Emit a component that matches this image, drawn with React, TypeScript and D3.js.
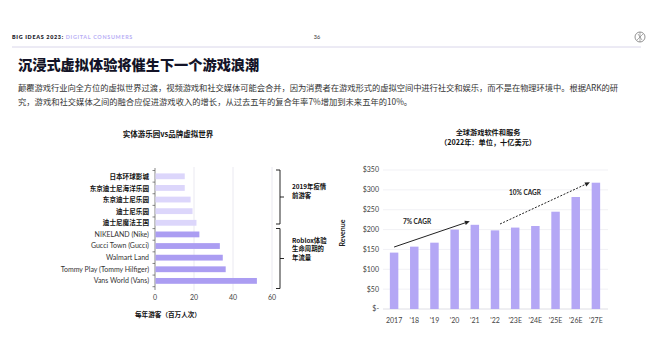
import React from "react";
import { scaleBand, scaleLinear, line } from "d3";

// left chart: physical parks vs branded virtual worlds (millions of visitors / yr)
const parkNames = [
  "日本环球影城",
  "东京迪士尼海洋乐园",
  "东京迪士尼乐园",
  "迪士尼乐园",
  "迪士尼魔法王国",
  "NIKELAND (Nike)",
  "Gucci Town (Gucci)",
  "Walmart Land",
  "Tommy Play (Tommy Hilfiger)",
  "Vans World (Vans)",
];
const parkVisitors = [15, 15, 18, 19, 21, 22.5, 33, 34.5, 36, 52];
const parkIsPhysical = [true, true, true, true, true, false, false, false, false, false];
const visitorTicks = [0, 20, 40, 60];

// right chart: global gaming software & services revenue ($bn)
const years = ["2017", "'18", "'19", "'20", "'21", "'22", "'23E", "'24E", "'25E", "'26E", "'27E"];
const revenue = [142, 157, 167, 200, 212, 198, 205, 209, 245, 282, 318];
const revenueTicks = [0, 50, 100, 150, 200, 250, 300, 350];

const CJK = "'Noto Sans CJK SC', 'Noto Sans', sans-serif";
const LAT = "Lato, 'Noto Sans', sans-serif";

function Arrow({ pts, dashed }: { pts: [number, number][]; dashed?: boolean }) {
  const [x0, y0] = pts[0];
  const [x1, y1] = pts[1];
  const a = Math.atan2(y1 - y0, x1 - x0);
  const L = 5, W = 2.2;
  const bx = x1 - L * Math.cos(a), by = y1 - L * Math.sin(a);
  const head = `${x1},${y1} ${bx - W * Math.sin(a)},${by + W * Math.cos(a)} ${bx + W * Math.sin(a)},${by - W * Math.cos(a)}`;
  return (
    <g>
      <path d={line()([[x0, y0], [bx, by]]) || ""} stroke="#222" strokeWidth={1} fill="none" strokeDasharray={dashed ? "2,1.5" : undefined} />
      <polygon points={head} fill="#222" />
    </g>
  );
}

export default function App() {
  // left chart scales
  const xL = scaleLinear().domain([0, 60]).range([155, 272]);
  const yL = scaleBand().domain(parkNames).range([170.5, 286.7]).paddingInner(0.5).paddingOuter(0.25);
  const stepL = yL.step();
  const bandStart = (i: number) => 170.5 + i * stepL;

  // right chart scales
  const xR = scaleBand().domain(years).range([384, 606]).paddingInner(0.58).paddingOuter(0.29);
  const yR = scaleLinear().domain([0, 350]).range([309, 170]);
  const cx = (c: string) => (xR(c) || 0) + xR.bandwidth() / 2;

  const bracket = (y0: number, y1: number) => {
    const x = 280;
    const m = (y0 + y1) / 2;
    return `M${x - 4},${y0} H${x} V${y1} H${x - 4} M${x},${m} H${x + 4}`;
  };

  return (
    <svg width={653} height={355} style={{ position: "absolute", left: 0, top: 0, background: "#fff" }}>
      {/* header */}
      <text x={12} y={39} fontFamily={LAT} fontSize={5.4} fontWeight={800} letterSpacing={0.7} fill="#1c1c2c">
        BIG IDEAS 2023:
        <tspan fill="#b8aef5" fontWeight={700}> DIGITAL CONSUMERS</tspan>
      </text>
      <text x={317} y={39} fontFamily={LAT} fontSize={5.5} fill="#333" textAnchor="middle">36</text>
      <circle cx={640} cy={37} r={5} fill="none" stroke="#777" strokeWidth={0.8} />
      <path d="M637,40 L643,34 M638,34 L642,40 M640,32 V42" stroke="#777" strokeWidth={0.6} />
      <line x1={12} x2={641} y1={47} y2={47} stroke="#d9d6ea" strokeWidth={1} />

      <text x={18} y={70} fontFamily={CJK} fontSize={14.2} fontWeight={900} fill="#131327">沉浸式虚拟体验将催生下一个游戏浪潮</text>
      <text x={18} y={91} fontFamily={CJK} fontSize={8.3} fill="#333" textLength={600} lengthAdjust="spacing">
        颠覆游戏行业向全方位的虚拟世界过渡，视频游戏和社交媒体可能会合并，因为消费者在游戏形式的虚拟空间中进行社交和娱乐，而不是在物理环境中。根据ARK的研
      </text>
      <text x={18} y={105} fontFamily={CJK} fontSize={8.3} fill="#333">
        究，游戏和社交媒体之间的融合应促进游戏收入的增长，从过去五年的复合年率7%增加到未来五年的10%。
      </text>

      {/* left chart */}
      <text x={168} y={137} textAnchor="middle" fontFamily={CJK} fontSize={7.5} fontWeight={700} fill="#111">实体游乐园vs品牌虚拟世界</text>
      {visitorTicks.map((t) => (
        <g key={t}>
          {t > 0 && <line x1={xL(t)} x2={xL(t)} y1={167} y2={291} stroke="#e4e3ee" strokeWidth={0.8} />}
          <text x={xL(t)} y={299.5} textAnchor="middle" fontFamily={LAT} fontSize={7} fill="#444">{t}</text>
        </g>
      ))}
      <line x1={155} x2={155} y1={168} y2={290} stroke="#555" strokeWidth={0.7} />
      {parkNames.map((_, i) => (
        <line key={i} x1={152.5} x2={155} y1={bandStart(i)} y2={bandStart(i)} stroke="#555" strokeWidth={0.7} />
      ))}
      <line x1={152.5} x2={155} y1={bandStart(10)} y2={bandStart(10)} stroke="#555" strokeWidth={0.7} />
      {parkNames.map((n, i) => (
        <g key={n}>
          <rect x={xL(0) + 0.5} y={yL(n)} width={xL(parkVisitors[i]) - xL(0)} height={yL.bandwidth()} fill={parkIsPhysical[i] ? "#dcd6fb" : "#ab9df2"} />
          <text
            x={149}
            y={(yL(n) || 0) + yL.bandwidth() / 2 + (parkIsPhysical[i] ? 0.3 : 0)}
            dy="0.35em"
            textAnchor="end"
            fontFamily={parkIsPhysical[i] ? CJK : LAT}
            fontSize={parkIsPhysical[i] ? 6.6 : 7}
            fontWeight={parkIsPhysical[i] ? 700 : 400}
            fill={parkIsPhysical[i] ? "#111" : "#333"}
          >
            {n}
          </text>
        </g>
      ))}
      <text x={168} y={316.5} textAnchor="middle" fontFamily={CJK} fontSize={6.6} fontWeight={700} fill="#111">每年游客（百万人次）</text>

      <path d={bracket(170, 224)} stroke="#111" strokeWidth={0.9} fill="none" />
      <path d={bracket(228.5, 288.5)} stroke="#111" strokeWidth={0.9} fill="none" />
      <g fontFamily={CJK} fontSize={6.4} fontWeight={700} fill="#111">
        <text x={292} y={188.5}>2019年疫情</text>
        <text x={292} y={197.5}>前游客</text>
        <text x={292} y={242.5}>Roblox体验</text>
        <text x={292} y={251}>生命周期的</text>
        <text x={292} y={259.5}>年流量</text>
      </g>

      {/* right chart */}
      <text x={488} y={135} textAnchor="middle" fontFamily={CJK} fontSize={7.2} fontWeight={700} fill="#111">全球游戏软件和服务</text>
      <text x={488} y={144.8} textAnchor="middle" fontFamily={CJK} fontSize={7.2} fontWeight={700} fill="#111">（2022年：单位，十亿美元）</text>
      {revenueTicks.map((t) => (
        <g key={t}>
          <line x1={383} x2={608} y1={yR(t)} y2={yR(t)} stroke={t === 0 ? "#d6d6de" : "#ededf3"} strokeWidth={0.8} />
          <text x={379} y={yR(t)} dy="0.35em" textAnchor="end" fontFamily={LAT} fontSize={7} fill="#444">
            {t === 0 ? "$-" : `$${t}`}
          </text>
        </g>
      ))}
      <text transform={`translate(345,233) rotate(-90)`} textAnchor="middle" fontFamily={LAT} fontSize={7} fontWeight={700} fill="#222">Revenue</text>
      {years.map((c, i) => (
        <g key={c}>
          <rect x={xR(c)} y={yR(revenue[i])} width={xR.bandwidth()} height={yR(0) - yR(revenue[i])} fill="#b4a7f5" />
          <text x={cx(c)} y={322.5} textAnchor="middle" fontFamily={LAT} fontSize={7} fill="#444">{c}</text>
        </g>
      ))}
      <Arrow pts={[[cx("2017"), yR(156)], [cx("'21") - 5, yR(221)]]} />
      <Arrow dashed pts={[[cx("'22") + 5, yR(214)], [cx("'27E") - 6, yR(319)]]} />
      <text x={417} y={223.5} textAnchor="middle" fontFamily={LAT} fontSize={6.5} fontWeight={700} fill="#222">7% CAGR</text>
      <text x={525} y={195} textAnchor="middle" fontFamily={LAT} fontSize={6.5} fontWeight={700} fill="#222">10% CAGR</text>
    </svg>
  );
}
